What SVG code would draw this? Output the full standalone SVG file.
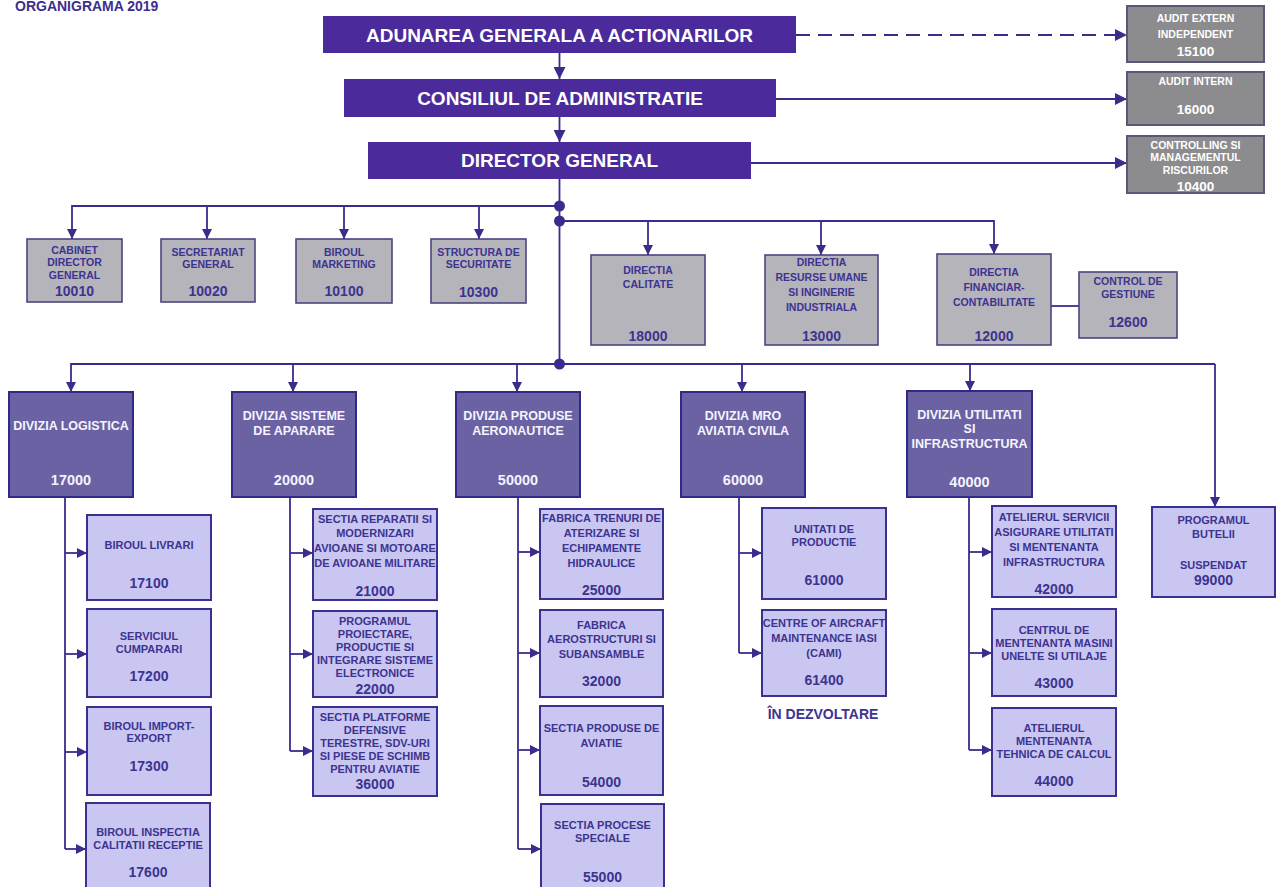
<svg xmlns="http://www.w3.org/2000/svg" width="1278" height="887" viewBox="0 0 1278 887">
<defs>
<style>
text{font-family:"Liberation Sans",Arial,sans-serif;font-weight:bold;text-anchor:middle}
.title{font-size:14px;fill:#3D2E8E;text-anchor:start}
.top{fill:#4B2A9B}
.topt{fill:#fff;font-size:19px}
.aud{fill:#8C8C8E;stroke:#5A587A;stroke-width:2}
.audt{fill:#fff;font-size:10.5px}
.audn{fill:#fff;font-size:13.5px}
.gr{fill:#B4B4BA;stroke:#4A4680;stroke-width:1.6}
.grt{fill:#3D3390;font-size:10.5px}
.grn{fill:#3D3390;font-size:14px}
.dv{fill:#6A62A2;stroke:#2F2A85;stroke-width:2}
.dvt{fill:#F4F4FF;font-size:12.5px}
.dvn{fill:#F4F4FF;font-size:14.5px}
.sb{fill:#C9C7F1;stroke:#3A3090;stroke-width:2}
.sbt{fill:#3D3390;font-size:11px}
.sbn{fill:#3D3390;font-size:14px}
.note{fill:#3D3390;font-size:14px}
.c{stroke:#3B2C8C;stroke-width:1.8;fill:none}
.a{marker-end:url(#ah)}
.al{marker-end:url(#ahl)}
.dash{stroke-dasharray:14 8}
.dot{fill:#3B2C8C}
</style>
<marker id="ah" markerUnits="userSpaceOnUse" markerWidth="10" markerHeight="10" refX="10" refY="5" orient="auto"><path d="M0,0 L10,5 L0,10 z" fill="#3B2C8C"/></marker>
<marker id="ahl" markerUnits="userSpaceOnUse" markerWidth="12" markerHeight="12" refX="12" refY="6" orient="auto"><path d="M0,0 L12,6 L0,12 z" fill="#3B2C8C"/></marker>
</defs>
<rect width="1278" height="887" fill="#fff"/>
<text class="title" x="15" y="11">ORGANIGRAMA 2019</text>

<g id="connectors">
<path class="c al" d="M559.5,53 V79"/>
<path class="c al" d="M559.5,117 V142"/>
<path class="c al dash" d="M796,35 H1127"/>
<path class="c al" d="M776,99 H1127"/>
<path class="c al" d="M751,163 H1127"/>
<path class="c" d="M559.5,179 V364"/>
<path class="c a" d="M559.5,206 H72 V239"/>
<path class="c a" d="M207,206 V239"/>
<path class="c a" d="M344,206 V239"/>
<path class="c a" d="M479,206 V239"/>
<path class="c a" d="M559.5,221 H994 V254"/>
<path class="c a" d="M648,221 V255"/>
<path class="c a" d="M821,221 V255"/>
<path class="c" d="M1051,306 H1079"/>
<path class="c a" d="M1215,364 H71 V392"/>
<path class="c a" d="M293,364 V392"/>
<path class="c a" d="M517,364 V392"/>
<path class="c a" d="M742,364 V392"/>
<path class="c a" d="M970,364 V391"/>
<path class="c a" d="M1215,364 V507"/>
<path class="c" d="M65,497 V849"/>
<path class="c a" d="M65,553 H87"/>
<path class="c a" d="M65,654 H87"/>
<path class="c a" d="M65,752 H87"/>
<path class="c a" d="M65,849 H86"/>
<path class="c" d="M290,497 V751"/>
<path class="c a" d="M290,553 H313"/>
<path class="c a" d="M290,654 H313"/>
<path class="c a" d="M290,751 H313"/>
<path class="c" d="M518,497 V849"/>
<path class="c a" d="M518,552 H540"/>
<path class="c a" d="M518,653 H540"/>
<path class="c a" d="M518,750 H540"/>
<path class="c a" d="M518,849 H541"/>
<path class="c" d="M739,497 V653"/>
<path class="c a" d="M739,553 H762"/>
<path class="c a" d="M739,653 H762"/>
<path class="c" d="M969,497 V750"/>
<path class="c a" d="M969,552 H992"/>
<path class="c a" d="M969,653 H992"/>
<path class="c a" d="M969,750 H992"/>
<circle class="dot" cx="559.5" cy="206" r="5.5"/>
<circle class="dot" cx="559.5" cy="221" r="5.5"/>
<circle class="dot" cx="559.5" cy="364" r="5.5"/>
</g>

<g id="n-aga"><rect class="top" x="323" y="16" width="473" height="37"/><text class="topt" x="559.5" y="41.5">ADUNAREA GENERALA A ACTIONARILOR</text></g>
<g id="n-ca"><rect class="top" x="344" y="79" width="432" height="38"/><text class="topt" x="560" y="105">CONSILIUL DE ADMINISTRATIE</text></g>
<g id="n-dg"><rect class="top" x="368" y="142" width="383" height="37"/><text class="topt" x="559.5" y="167">DIRECTOR GENERAL</text></g>

<g id="n-15100"><rect class="aud" x="1127" y="6" width="137" height="56"/><text class="audt" x="1195.5" y="22">AUDIT EXTERN</text><text class="audt" x="1195.5" y="38">INDEPENDENT</text><text class="audn" x="1195.5" y="56">15100</text></g>
<g id="n-16000"><rect class="aud" x="1127" y="72" width="137" height="53"/><text class="audt" x="1195.5" y="85">AUDIT INTERN</text><text class="audn" x="1195.5" y="114">16000</text></g>
<g id="n-10400"><rect class="aud" x="1127" y="136" width="137" height="57"/><text class="audt" x="1195.5" y="149">CONTROLLING SI</text><text class="audt" x="1195.5" y="161">MANAGEMENTUL</text><text class="audt" x="1195.5" y="174">RISCURILOR</text><text class="audn" x="1195.5" y="191">10400</text></g>

<g id="n-10010"><rect class="gr" x="27" y="239" width="95" height="63"/><text class="grt" x="74.5" y="254">CABINET</text><text class="grt" x="74.5" y="266">DIRECTOR</text><text class="grt" x="74.5" y="279">GENERAL</text><text class="grn" x="74.5" y="296">10010</text></g>
<g id="n-10020"><rect class="gr" x="161" y="239" width="94" height="63"/><text class="grt" x="208" y="256">SECRETARIAT</text><text class="grt" x="208" y="268">GENERAL</text><text class="grn" x="208" y="296">10020</text></g>
<g id="n-10100"><rect class="gr" x="296" y="239" width="96" height="64"/><text class="grt" x="344" y="256">BIROUL</text><text class="grt" x="344" y="268">MARKETING</text><text class="grn" x="344" y="296">10100</text></g>
<g id="n-10300"><rect class="gr" x="431" y="239" width="95" height="64"/><text class="grt" x="478.5" y="256">STRUCTURA DE</text><text class="grt" x="478.5" y="268">SECURITATE</text><text class="grn" x="478.5" y="297">10300</text></g>
<g id="n-18000"><rect class="gr" x="591" y="255" width="114" height="90"/><text class="grt" x="648" y="274">DIRECTIA</text><text class="grt" x="648" y="288">CALITATE</text><text class="grn" x="648" y="341">18000</text></g>
<g id="n-13000"><rect class="gr" x="765" y="255" width="113" height="90"/><text class="grt" x="821.5" y="266">DIRECTIA</text><text class="grt" x="821.5" y="281">RESURSE UMANE</text><text class="grt" x="821.5" y="296">SI INGINERIE</text><text class="grt" x="821.5" y="311">INDUSTRIALA</text><text class="grn" x="821.5" y="341">13000</text></g>
<g id="n-12000"><rect class="gr" x="937" y="254" width="114" height="91"/><text class="grt" x="994" y="276">DIRECTIA</text><text class="grt" x="994" y="291">FINANCIAR-</text><text class="grt" x="994" y="306">CONTABILITATE</text><text class="grn" x="994" y="341">12000</text></g>
<g id="n-12600"><rect class="gr" x="1079" y="272" width="98" height="66"/><text class="grt" x="1128" y="285">CONTROL DE</text><text class="grt" x="1128" y="298">GESTIUNE</text><text class="grn" x="1128" y="327">12600</text></g>

<g id="n-17000"><rect class="dv" x="9" y="392" width="124" height="105"/><text class="dvt" x="71" y="429.5">DIVIZIA LOGISTICA</text><text class="dvn" x="71" y="485">17000</text></g>
<g id="n-20000"><rect class="dv" x="232" y="392" width="124" height="105"/><text class="dvt" x="294" y="419.5">DIVIZIA SISTEME</text><text class="dvt" x="294" y="434.5">DE APARARE</text><text class="dvn" x="294" y="485">20000</text></g>
<g id="n-50000"><rect class="dv" x="456" y="392" width="124" height="105"/><text class="dvt" x="518" y="419.5">DIVIZIA PRODUSE</text><text class="dvt" x="518" y="434.5">AERONAUTICE</text><text class="dvn" x="518" y="485">50000</text></g>
<g id="n-60000"><rect class="dv" x="681" y="392" width="124" height="105"/><text class="dvt" x="743" y="419.5">DIVIZIA MRO</text><text class="dvt" x="743" y="434.5">AVIATIA CIVILA</text><text class="dvn" x="743" y="485">60000</text></g>
<g id="n-40000"><rect class="dv" x="907" y="391" width="125" height="106"/><text class="dvt" x="969.5" y="418.5">DIVIZIA UTILITATI</text><text class="dvt" x="969.5" y="432.5">SI</text><text class="dvt" x="969.5" y="447.5">INFRASTRUCTURA</text><text class="dvn" x="969.5" y="487">40000</text></g>

<g id="n-17100"><rect class="sb" x="87" y="515" width="124" height="85"/><text class="sbt" x="149" y="549">BIROUL LIVRARI</text><text class="sbn" x="149" y="588">17100</text></g>
<g id="n-17200"><rect class="sb" x="87" y="609" width="124" height="88"/><text class="sbt" x="149" y="640">SERVICIUL</text><text class="sbt" x="149" y="653">CUMPARARI</text><text class="sbn" x="149" y="681">17200</text></g>
<g id="n-17300"><rect class="sb" x="87" y="707" width="124" height="88"/><text class="sbt" x="149" y="730">BIROUL IMPORT-</text><text class="sbt" x="149" y="742">EXPORT</text><text class="sbn" x="149" y="771">17300</text></g>
<g id="n-17600"><rect class="sb" x="86" y="803" width="124" height="100"/><text class="sbt" x="148" y="836">BIROUL INSPECTIA</text><text class="sbt" x="148" y="849">CALITATII RECEPTIE</text><text class="sbn" x="148" y="877">17600</text></g>

<g id="n-21000"><rect class="sb" x="313" y="509" width="124" height="91"/><text class="sbt" x="375" y="523">SECTIA REPARATII SI</text><text class="sbt" x="375" y="537">MODERNIZARI</text><text class="sbt" x="375" y="552">AVIOANE SI MOTOARE</text><text class="sbt" x="375" y="567">DE AVIOANE MILITARE</text><text class="sbn" x="375" y="596">21000</text></g>
<g id="n-22000"><rect class="sb" x="313" y="611" width="124" height="86"/><text class="sbt" x="375" y="625">PROGRAMUL</text><text class="sbt" x="375" y="638">PROIECTARE,</text><text class="sbt" x="375" y="651">PRODUCTIE SI</text><text class="sbt" x="375" y="664">INTEGRARE SISTEME</text><text class="sbt" x="375" y="677">ELECTRONICE</text><text class="sbn" x="375" y="694">22000</text></g>
<g id="n-36000"><rect class="sb" x="313" y="707" width="124" height="89"/><text class="sbt" x="375" y="721">SECTIA PLATFORME</text><text class="sbt" x="375" y="734">DEFENSIVE</text><text class="sbt" x="375" y="747">TERESTRE, SDV-URI</text><text class="sbt" x="375" y="760">SI PIESE DE SCHIMB</text><text class="sbt" x="375" y="773">PENTRU AVIATIE</text><text class="sbn" x="375" y="789">36000</text></g>

<g id="n-25000"><rect class="sb" x="540" y="509" width="123" height="90"/><text class="sbt" x="601.5" y="522">FABRICA TRENURI DE</text><text class="sbt" x="601.5" y="537">ATERIZARE SI</text><text class="sbt" x="601.5" y="552">ECHIPAMENTE</text><text class="sbt" x="601.5" y="567">HIDRAULICE</text><text class="sbn" x="601.5" y="595">25000</text></g>
<g id="n-32000"><rect class="sb" x="540" y="610" width="123" height="87"/><text class="sbt" x="601.5" y="629">FABRICA</text><text class="sbt" x="601.5" y="643">AEROSTRUCTURI SI</text><text class="sbt" x="601.5" y="658">SUBANSAMBLE</text><text class="sbn" x="601.5" y="686">32000</text></g>
<g id="n-54000"><rect class="sb" x="540" y="706" width="123" height="89"/><text class="sbt" x="601.5" y="732">SECTIA PRODUSE DE</text><text class="sbt" x="601.5" y="747">AVIATIE</text><text class="sbn" x="601.5" y="787">54000</text></g>
<g id="n-55000"><rect class="sb" x="541" y="804" width="123" height="100"/><text class="sbt" x="602.5" y="829">SECTIA PROCESE</text><text class="sbt" x="602.5" y="842">SPECIALE</text><text class="sbn" x="602.5" y="882">55000</text></g>

<g id="n-61000"><rect class="sb" x="762" y="508" width="124" height="91"/><text class="sbt" x="824" y="533">UNITATI DE</text><text class="sbt" x="824" y="546">PRODUCTIE</text><text class="sbn" x="824" y="585">61000</text></g>
<g id="n-61400"><rect class="sb" x="762" y="610" width="124" height="86"/><text class="sbt" x="824" y="627">CENTRE OF AIRCRAFT</text><text class="sbt" x="824" y="642">MAINTENANCE IASI</text><text class="sbt" x="824" y="657">(CAMI)</text><text class="sbn" x="824" y="685">61400</text></g>
<text class="note" x="823" y="719">ÎN DEZVOLTARE</text>

<g id="n-42000"><rect class="sb" x="992" y="506" width="124" height="91"/><text class="sbt" x="1054" y="521">ATELIERUL SERVICII</text><text class="sbt" x="1054" y="536">ASIGURARE UTILITATI</text><text class="sbt" x="1054" y="551">SI MENTENANTA</text><text class="sbt" x="1054" y="566">INFRASTRUCTURA</text><text class="sbn" x="1054" y="594">42000</text></g>
<g id="n-43000"><rect class="sb" x="992" y="609" width="124" height="87"/><text class="sbt" x="1054" y="634">CENTRUL DE</text><text class="sbt" x="1054" y="647">MENTENANTA MASINI</text><text class="sbt" x="1054" y="660">UNELTE SI UTILAJE</text><text class="sbn" x="1054" y="688">43000</text></g>
<g id="n-44000"><rect class="sb" x="992" y="708" width="124" height="88"/><text class="sbt" x="1054" y="732">ATELIERUL</text><text class="sbt" x="1054" y="745">MENTENANTA</text><text class="sbt" x="1054" y="758">TEHNICA DE CALCUL</text><text class="sbn" x="1054" y="786">44000</text></g>

<g id="n-99000"><rect class="sb" x="1152" y="507" width="123" height="90"/><text class="sbt" x="1213.5" y="524">PROGRAMUL</text><text class="sbt" x="1213.5" y="538">BUTELII</text><text class="sbt" x="1213.5" y="569">SUSPENDAT</text><text class="sbn" x="1213.5" y="585">99000</text></g>
</svg>
